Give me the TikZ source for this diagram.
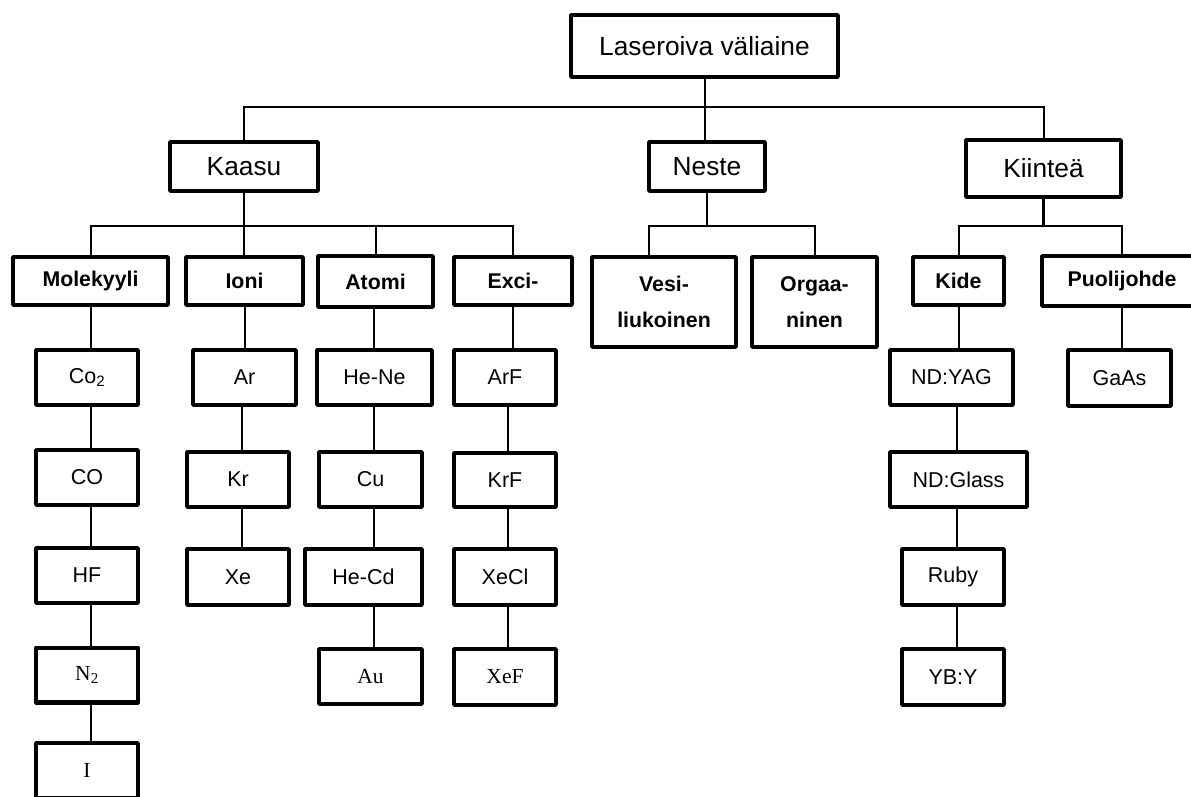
\documentclass[tikz,border=0pt]{standalone}
\usepackage{fontspec}
\setmainfont{Liberation Sans}
\newfontfamily\serifface{Liberation Serif}
\begin{document}
\begin{tikzpicture}[x=1pt,y=-1pt,
  box/.style={draw, line width=4.3pt, line join=round, inner sep=0pt, fill=white, align=center},
  sz/.style 2 args={minimum width=#1pt-4.3pt, minimum height=#2pt-4.3pt},
  head/.style={box, font=\fontsize{26.3}{31}\selectfont},
  cat/.style={box, font=\bfseries\fontsize{21.3}{36}\selectfont},
  leaf/.style={box, sz={106}{59}, font=\fontsize{21.5}{25}\selectfont},
  tleaf/.style={box, sz={106}{59}, font=\serifface\fontsize{21.5}{25}\selectfont},
  link/.style={line width=2pt},
  wlink/.style={line width=2.7pt}]
\useasboundingbox (0,0) rectangle (1191,796);
\fill[white] (0,0) rectangle (1191,796);
\clip (0,0) rectangle (1191,796);

% bus levels and column lines
\coordinate (b1) at (0,107);
\coordinate (b2) at (0,226);
\coordinate (colM) at (91,0);
\coordinate (colI) at (242,0);
\coordinate (colA) at (374,0);
\coordinate (colE) at (508,0);
\coordinate (colK) at (957,0);
\coordinate (colV) at (649,0);

% root and main classes
\node[head, sz={271}{66}] (top) at (704.5,46) {Laseroiva väliaine};
\node[head, sz={152}{53}] (gas) at (244,166.5) {Kaasu};
\node[head, sz={120}{53}] (liq) at (707,166.5) {Neste};
\node[head, sz={159}{61}] (sol) at (1043.5,168.5) {Kiinteä};

% sub-classes
\node[cat, sz={159}{52}] (mol) at (90.5,281) {Molekyyli};
\node[cat, sz={121}{52}] (ion) at (244.5,281) {Ioni};
\node[cat, sz={119}{55}] (atom) at (375.5,281.5) {Atomi};
\node[cat, sz={122}{52}] (exc) at (513,281) {Exci-};
\node[cat, sz={148}{94}] (aq) at (664,302) {Vesi-\\liukoinen};
\node[cat, sz={129}{94}] (org) at (814.5,302) {Orgaa-\\ninen};
\node[cat, sz={95}{52}] (cry) at (958.5,281) {Kide};
\node[cat, sz={164}{54}] (semi) at (1122,281) {Puolijohde};

% molecular
\node[leaf] (co2) at (87,377.5) {Co\textsubscript{2}};
\node[leaf] (co) at (87,477.5) {CO};
\node[leaf] (hf) at (87,575.5) {HF};
\node[tleaf] (n2) at (87,675) {N\textsubscript{2}};
\node[tleaf] (iod) at (87,770.5) {I};

% ion
\node[leaf, sz={107}{59}] (ar) at (244.5,377.5) {Ar};
\node[leaf] (kr) at (238,479.5) {Kr};
\node[leaf, sz={106}{60}] (xe) at (238,577) {Xe};

% atom
\node[leaf, sz={119}{59}] (hene) at (374.5,377.5) {He-Ne};
\node[leaf, sz={107}{59}] (cu) at (370.5,479.5) {Cu};
\node[leaf, sz={121}{60}] (hecd) at (363.5,577) {He-Cd};
\node[tleaf, sz={107}{59}] (au) at (370.5,676.5) {Au};

% excimer
\node[leaf] (arf) at (505,377.5) {ArF};
\node[leaf, sz={106}{58}] (krf) at (505,480) {KrF};
\node[leaf, sz={106}{60}] (xecl) at (505,577) {XeCl};
\node[tleaf, sz={106}{60}] (xef) at (505,677) {XeF};

% solid state
\node[leaf, sz={127}{59}] (yag) at (951.5,377.5) {ND:YAG};
\node[leaf, sz={141}{59}] (glass) at (958.5,479.5) {ND:Glass};
\node[leaf, sz={106}{60}] (ruby) at (953,577) {Ruby};
\node[leaf, sz={106}{60}] (yby) at (953,677) {YB:Y};
\node[leaf, sz={107}{60}] (gaas) at (1119.5,378) {GaAs};

% top level connectors
\draw[link] (top.south) -- (top.south |- liq.north);
\draw[link] (gas.north) -- (gas.north |- b1) -- (sol.north |- b1) -- (sol.north);

% gas branch
\draw[link] (gas.south) -- (gas.south |- ion.north);
\draw[link] (mol.north) -- (mol.north |- b2) -- (exc.north |- b2) -- (exc.north);
\draw[link] (atom.north) -- (atom.north |- b2);

% liquid branch
\draw[link] (liq.south) -- (liq.south |- b2);
\draw[link] (aq.north -| colV) -- (colV |- b2) -- (org.north |- b2) -- (org.north);

% solid branch
\draw[wlink] (sol.south) -- (sol.south |- b2);
\draw[link] (cry.north) -- (cry.north |- b2) -- (semi.north |- b2) -- (semi.north);
\draw[link] (semi.south) -- (semi.south |- gaas.north);

% columns
\draw[link] (mol.south -| colM) -- (co2.north -| colM);
\draw[link] (co2.south -| colM) -- (co.north -| colM);
\draw[link] (co.south -| colM) -- (hf.north -| colM);
\draw[link] (hf.south -| colM) -- (n2.north -| colM);
\draw[link] (n2.south -| colM) -- (iod.north -| colM);

\draw[link] (ion.south) -- (ion.south |- ar.north);
\draw[link] (ar.south -| colI) -- (kr.north -| colI);
\draw[link] (kr.south -| colI) -- (xe.north -| colI);

\draw[wlink] (atom.south -| colA) -- (hene.north -| colA);
\draw[link] (hene.south -| colA) -- (cu.north -| colA);
\draw[link] (cu.south -| colA) -- (hecd.north -| colA);
\draw[link] (hecd.south -| colA) -- (au.north -| colA);

\draw[link] (exc.south) -- (exc.south |- arf.north);
\draw[link] (arf.south -| colE) -- (krf.north -| colE);
\draw[link] (krf.south -| colE) -- (xecl.north -| colE);
\draw[link] (xecl.south -| colE) -- (xef.north -| colE);

\draw[link] (cry.south) -- (cry.south |- yag.north);
\draw[link] (yag.south -| colK) -- (glass.north -| colK);
\draw[wlink] (glass.south -| colK) -- (ruby.north -| colK);
\draw[wlink] (ruby.south -| colK) -- (yby.north -| colK);
\end{tikzpicture}
\end{document}
